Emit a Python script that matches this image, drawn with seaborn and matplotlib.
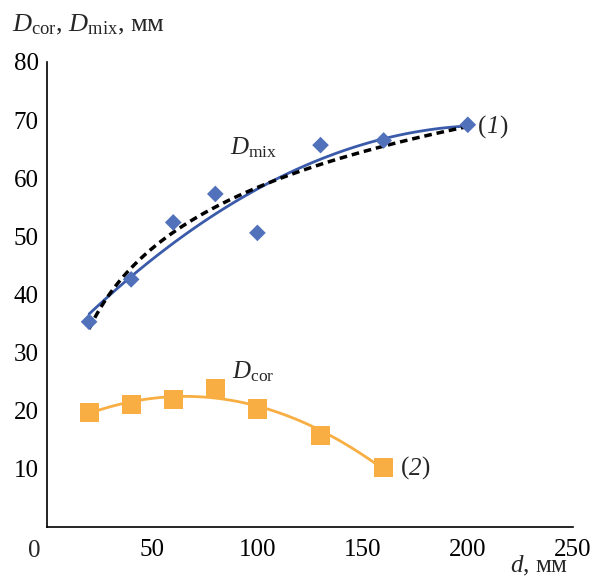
import matplotlib
matplotlib.use("Agg")
import matplotlib.pyplot as plt
import seaborn as sns
import numpy as np
import pandas as pd

# ---- data ----
d_mix_x = [20, 40, 60, 80, 100, 130, 160, 200]
d_mix_y = [35.3, 42.6, 52.4, 57.3, 50.6, 65.7, 66.5, 69.2]
d_cor_x = [20, 40, 60, 80, 100, 130, 160]
d_cor_y = [19.7, 21.1, 21.9, 23.9, 20.3, 15.8, 10.3]
x_ticks = [50, 100, 150, 200, 250]
y_ticks = [10, 20, 30, 40, 50, 60, 70, 80]

mix = pd.DataFrame({"d": d_mix_x, "D": d_mix_y})
cor = pd.DataFrame({"d": d_cor_x, "D": d_cor_y})

sns.set_style("white")
plt.rcParams["font.family"] = ["Liberation Serif", "DejaVu Serif"]
plt.rcParams["mathtext.fontset"] = "custom"
plt.rcParams["mathtext.rm"] = "Liberation Serif"
plt.rcParams["mathtext.it"] = "Liberation Serif:italic"

BLUE_M = "#5171bb"
BLUE_L = "#3a5aaa"
ORANGE = "#f8ae42"

fig = plt.figure(figsize=(5.97, 5.81), dpi=100)
ax = fig.add_axes([47/597, 1-527/581, (573-47)/597, (527-62)/581])

# fitted curves
sns.regplot(data=mix, x="d", y="D", order=2, ci=None, scatter=False, ax=ax,
            line_kws=dict(color=BLUE_L, lw=2.0, zorder=2))
sns.regplot(data=mix, x="d", y="D", logx=True, ci=None, scatter=False, ax=ax,
            line_kws=dict(color="black", lw=2.5, ls=(0, (2.2, 1.4)), zorder=3))
sns.regplot(data=cor, x="d", y="D", order=2, ci=None, scatter=False, ax=ax,
            line_kws=dict(color=ORANGE, lw=2.0, zorder=2))

# markers
sns.scatterplot(data=mix, x="d", y="D", marker="D", s=72, color=BLUE_M,
                edgecolor="none", ax=ax, zorder=4)
sns.scatterplot(data=cor, x="d", y="D", marker="s", s=190, color=ORANGE,
                edgecolor="none", ax=ax, zorder=4)

ax.set_xlim(0, 250)
ax.set_ylim(0, 80)
ax.set_xticks(x_ticks)
ax.set_yticks(y_ticks)
ax.set_xlabel("")
ax.set_ylabel("")
for s in ["top", "right"]:
    ax.spines[s].set_visible(False)
for s in ["left", "bottom"]:
    ax.spines[s].set_linewidth(1.2)
    ax.spines[s].set_color("black")
ax.tick_params(axis="both", direction="in", length=6, width=1.2, colors="black",
               labelsize=18)
ax.tick_params(axis="x", pad=9)
ax.tick_params(axis="y", pad=6)

ax.annotate("0", xy=(0, 0), xycoords="data", xytext=(-9, -9.5),
            textcoords="offset points", ha="center", va="top", fontsize=18)

ax.text(98.3, 65.2, r"$D_{\rm mix}$", ha="center", va="center", fontsize=18)
ax.text(97.9, 26.7, r"$D_{\rm cor}$", ha="center", va="center", fontsize=18)


def numbered(x, y, num):
    t1 = ax.annotate("(", xy=(x, y), xycoords="data", ha="left", va="center",
                     fontsize=18)
    t2 = ax.annotate(num, xy=(1, 0.5), xycoords=t1, ha="left", va="center",
                     fontsize=18, fontstyle="italic")
    ax.annotate(")", xy=(1, 0.5), xycoords=t2, ha="left", va="center",
                fontsize=18)


numbered(204.8, 68.8, "1")
numbered(168.1, 10.0, "2")

fig.text(0.02, 0.957, r"$D_{\rm cor}$, $D_{\rm mix}$, мм", ha="left",
         va="center", fontsize=19)
fig.text(0.952, 0.005, r"$d$, мм", ha="right", va="bottom", fontsize=18)

fig.savefig("out.png", dpi=100)
